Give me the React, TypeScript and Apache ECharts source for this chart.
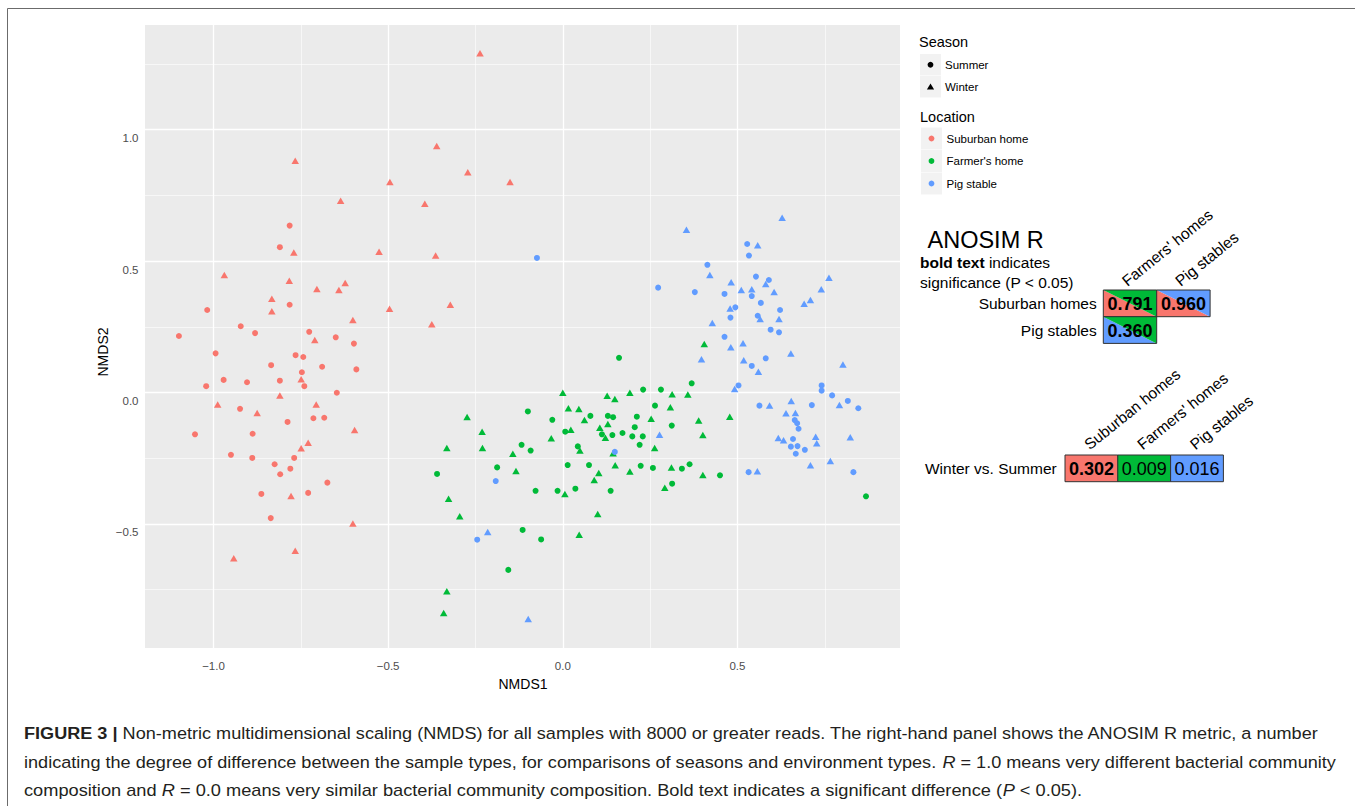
import React, { useEffect, useRef } from 'react';
import * as echarts from 'echarts';

const FONT = "'Liberation Sans', Arial, Helvetica, sans-serif";
const RED = '#F8766D';
const GREEN = '#00BA38';
const BLUE = '#619CFF';

// NMDS coordinates [NMDS1, NMDS2]
const suburbanSummer: [number, number][] = [
  [-0.782, 0.635], [-0.81, 0.553], [-1.018, 0.314], [-0.782, 0.334], [-0.922, 0.252], [-1.099, 0.215],
  [-0.881, 0.226], [-0.726, 0.231], [-0.65, 0.21], [-0.598, 0.186], [-0.994, 0.149], [-0.765, 0.142],
  [-0.743, 0.135], [-0.835, 0.104], [-0.689, 0.098], [-0.591, 0.088], [-0.747, 0.077], [-0.971, 0.048],
  [-0.904, 0.039], [-0.81, 0.045], [-1.021, 0.024], [-0.74, 0.024], [-0.647, -0.001], [-0.924, -0.062],
  [-0.714, -0.098], [-0.683, -0.096], [-0.788, -0.112], [-1.053, -0.159], [-0.888, -0.157], [-0.95, -0.237],
  [-0.889, -0.249], [-0.769, -0.249], [-0.825, -0.273], [-0.78, -0.29], [-0.809, -0.311], [-0.674, -0.343],
  [-0.863, -0.386], [-0.729, -0.382], [-0.836, -0.478],
];
const suburbanWinter: [number, number][] = [
  [-0.237, 1.291], [-0.361, 0.938], [-0.766, 0.882], [-0.272, 0.838], [-0.495, 0.801], [-0.151, 0.801],
  [-0.636, 0.73], [-0.395, 0.718], [-0.77, 0.533], [-0.526, 0.536], [-0.364, 0.521], [-0.969, 0.447],
  [-0.783, 0.425], [-0.704, 0.394], [-0.623, 0.417], [-0.641, 0.39], [-0.833, 0.357], [-0.833, 0.309],
  [-0.496, 0.319], [-0.322, 0.334], [-0.601, 0.276], [-0.375, 0.26], [-0.71, 0.2], [-0.749, 0.05],
  [-0.81, -0.011], [-0.988, -0.046], [-0.875, -0.078], [-0.706, -0.046], [-0.596, -0.143], [-0.729, -0.191],
  [-0.749, -0.212], [-0.778, -0.394], [-0.601, -0.498], [-0.766, -0.602], [-0.942, -0.631],
];
const farmerSummer: [number, number][] = [
  [-0.36, -0.31], [-0.188, -0.285], [-0.118, -0.199], [-0.115, -0.523], [-0.156, -0.675], [-0.078, -0.374],
  [-0.015, -0.374], [0.036, -0.366], [-0.062, -0.559], [0.161, 0.132], [0.369, 0.035], [0.23, 0.011],
  [0.281, 0.011], [-0.1, -0.072], [0.264, -0.05], [-0.03, -0.104], [0.079, -0.089], [0.129, -0.089],
  [0.144, -0.094], [0.212, -0.092], [0.206, -0.132], [0.312, -0.126], [0.007, -0.149], [0.112, -0.159],
  [0.142, -0.162], [0.171, -0.154], [0.199, -0.167], [0.229, -0.167], [-0.092, -0.221], [0.043, -0.205],
  [0.22, -0.199], [0.014, -0.276], [0.075, -0.276], [0.223, -0.279], [0.258, -0.287], [0.341, -0.29],
  [0.363, -0.273], [0.45, -0.315], [0.137, -0.374], [0.313, -0.347], [0.868, -0.395],
];
const farmerWinter: [number, number][] = [
  [-0.274, -0.093], [-0.231, -0.149], [-0.332, -0.211], [-0.23, -0.211], [-0.143, -0.233], [-0.134, -0.299],
  [-0.327, -0.404], [-0.295, -0.471], [-0.332, -0.756], [-0.341, -0.839], [0.405, 0.185], [0.0, -0.001],
  [0.127, -0.012], [0.149, -0.025], [0.192, -0.001], [0.313, -0.007], [0.358, -0.008], [0.016, -0.06],
  [0.046, -0.063], [0.308, -0.056], [0.062, -0.105], [0.253, -0.1], [0.389, -0.107], [0.478, -0.092],
  [0.129, -0.12], [0.106, -0.134], [0.023, -0.142], [0.122, -0.172], [0.401, -0.162], [-0.033, -0.174],
  [0.049, -0.221], [0.263, -0.211], [0.144, -0.231], [0.15, -0.277], [0.103, -0.306], [0.192, -0.301],
  [0.311, -0.285], [0.401, -0.314], [0.09, -0.333], [0.006, -0.386], [0.292, -0.362], [0.1, -0.462],
  [0.047, -0.541],
];
const pigSummer: [number, number][] = [
  [-0.074, 0.512], [-0.192, -0.337], [-0.245, -0.56], [0.149, -0.226], [0.273, 0.399], [0.528, 0.565],
  [0.533, 0.521], [0.414, 0.486], [0.378, 0.382], [0.463, 0.375], [0.541, 0.367], [0.553, 0.441],
  [0.59, 0.428], [0.567, 0.341], [0.494, 0.324], [0.622, 0.314], [0.48, 0.285], [0.558, 0.292],
  [0.595, 0.239], [0.619, 0.229], [0.463, 0.212], [0.541, 0.101], [0.581, 0.13], [0.503, 0.027],
  [0.741, 0.027], [0.741, 0.007], [0.771, -0.011], [0.816, -0.032], [0.563, -0.05], [0.713, -0.048],
  [0.846, -0.06], [0.664, -0.105], [0.671, -0.117], [0.675, -0.138], [0.659, -0.177], [0.653, -0.206],
  [0.672, -0.204], [0.693, -0.218], [0.667, -0.233], [0.532, -0.303], [0.832, -0.303],
];
const pigWinter: [number, number][] = [
  [-0.215, -0.531], [-0.099, -0.862], [0.277, -0.161], [0.628, 0.665], [0.354, 0.619], [0.558, 0.56],
  [0.421, 0.447], [0.482, 0.42], [0.511, 0.39], [0.541, 0.393], [0.581, 0.413], [0.605, 0.382],
  [0.762, 0.437], [0.74, 0.393], [0.709, 0.352], [0.691, 0.338], [0.479, 0.32], [0.565, 0.28],
  [0.619, 0.28], [0.428, 0.264], [0.481, 0.172], [0.516, 0.187], [0.397, 0.127], [0.518, 0.123],
  [0.653, 0.148], [0.56, 0.079], [0.802, 0.107], [0.492, 0.013], [0.592, -0.049], [0.654, -0.032],
  [0.792, -0.048], [0.639, -0.079], [0.666, -0.078], [0.617, -0.173], [0.632, -0.182], [0.724, -0.168],
  [0.727, -0.193], [0.823, -0.17], [0.766, -0.261], [0.709, -0.277], [0.557, -0.3],
];

const xTicks = [-1.0, -0.5, 0.0, 0.5];
const yTicks = [-0.5, 0.0, 0.5, 1.0];
const xMinor = [-0.75, -0.25, 0.25, 0.75];
const yMinor = [-0.75, -0.25, 0.25, 0.75, 1.25];

const seasonLabels = ['Summer', 'Winter'];
const locationLabels = ['Suburban home', "Farmer's home", 'Pig stable'];
const locationColors = [RED, GREEN, BLUE];

// ANOSIM R between location types
const anosimRows = ['Suburban homes', 'Pig stables'];
const anosimRowColors = [RED, BLUE];
const anosimCols = ["Farmers' homes", 'Pig stables'];
const anosimColColors = [GREEN, BLUE];
const anosimValues: (number | null)[][] = [[0.791, 0.96], [0.36, null]];
const anosimBold = [[true, true], [true, false]];

// ANOSIM R winter vs summer, per location
const seasonCompCols = ['Suburban homes', "Farmers' homes", 'Pig stables'];
const seasonCompColors = [RED, GREEN, BLUE];
const seasonCompValues = [0.302, 0.009, 0.016];
const seasonCompBold = [true, false, false];

type Part = { t: string; s: 'b' | 'n' | 'i' };
const captionLines: Part[][] = [
  [
    { t: 'FIGURE 3 |', s: 'b' },
    { t: ' Non-metric multidimensional scaling (NMDS) for all samples with 8000 or greater reads. The right-hand panel shows the ANOSIM R metric, a number', s: 'n' },
  ],
  [
    { t: 'indicating the degree of difference between the sample types, for comparisons of seasons and environment types. ', s: 'n' },
    { t: 'R', s: 'i' },
    { t: ' = 1.0 means very different bacterial community', s: 'n' },
  ],
  [
    { t: 'composition and ', s: 'n' },
    { t: 'R', s: 'i' },
    { t: ' = 0.0 means very similar bacterial community composition. Bold text indicates a significant difference (', s: 'n' },
    { t: 'P', s: 'i' },
    { t: ' < 0.05).', s: 'n' },
  ],
];
const captionWidths = [1296, 1313, 1058];

const fmt = (v: number) => (v < 0 ? '\u2212' : '') + Math.abs(v).toFixed(1);

function fontOf(s: string, size: number) {
  const w = s === 'b' ? 'bold ' : '';
  const st = s === 'i' ? 'italic ' : '';
  return `${st}${w}${size}px ${FONT}`;
}

function measure(parts: Part[], size: number) {
  const ctx = document.createElement('canvas').getContext('2d');
  if (!ctx) return 0;
  let w = 0;
  for (const p of parts) {
    ctx.font = fontOf(p.s, size);
    w += ctx.measureText(p.t).width;
  }
  return w;
}

function richStyles(size: number, fill: string) {
  return {
    b: { fontSize: size, fontFamily: FONT, fontWeight: 'bold', fill },
    n: { fontSize: size, fontFamily: FONT, fontWeight: 'normal', fill },
    i: { fontSize: size, fontFamily: FONT, fontStyle: 'italic', fill },
  };
}

export default function App() {
  const ref = useRef<HTMLDivElement>(null);

  useEffect(() => {
    if (!ref.current) return;
    const chart = echarts.init(ref.current, null, { renderer: 'svg' });

    const groups = [
      { name: 'Suburban home \u2013 Summer', data: suburbanSummer, color: RED, symbol: 'circle' },
      { name: 'Suburban home \u2013 Winter', data: suburbanWinter, color: RED, symbol: 'triangle' },
      { name: "Farmer's home \u2013 Summer", data: farmerSummer, color: GREEN, symbol: 'circle' },
      { name: "Farmer's home \u2013 Winter", data: farmerWinter, color: GREEN, symbol: 'triangle' },
      { name: 'Pig stable \u2013 Summer', data: pigSummer, color: BLUE, symbol: 'circle' },
      { name: 'Pig stable \u2013 Winter', data: pigWinter, color: BLUE, symbol: 'triangle' },
    ];

    const gridLines = [
      ...xMinor.map((v) => ({ xAxis: v, lineStyle: { color: '#FFFFFF', width: 0.6, type: 'solid' } })),
      ...yMinor.map((v) => ({ yAxis: v, lineStyle: { color: '#FFFFFF', width: 0.6, type: 'solid' } })),
      ...xTicks.map((v) => ({ xAxis: v, lineStyle: { color: '#FFFFFF', width: 1.3, type: 'solid' } })),
      ...yTicks.map((v) => ({ yAxis: v, lineStyle: { color: '#FFFFFF', width: 1.3, type: 'solid' } })),
    ];

    const series: any[] = groups.map((g, i) => ({
      type: 'scatter',
      name: g.name,
      data: g.data,
      symbol: g.symbol,
      symbolSize: g.symbol === 'circle' ? 6 : [7.5, 6.5],
      itemStyle: { color: g.color, opacity: 1 },
      z: 3,
      silent: true,
      ...(i === 0
        ? {
            markLine: {
              z: 1,
              silent: true,
              animation: false,
              symbol: ['none', 'none'],
              label: { show: false },
              emphasis: { disabled: true },
              lineStyle: { type: 'solid', color: '#FFFFFF' },
              data: gridLines,
            },
          }
        : {}),
    }));

    const graphic: any[] = [];
    const txt = (text: string, x: number, y: number, opts: any = {}) => ({
      type: 'text',
      x,
      y,
      rotation: opts.rotation || 0,
      style: {
        text,
        fontSize: opts.size || 12,
        fontFamily: FONT,
        fontWeight: opts.weight || 'normal',
        fill: opts.fill || '#000000',
        align: opts.align || 'left',
        verticalAlign: opts.va || 'middle',
      },
    });

    // frame
    graphic.push({ type: 'line', shape: { x1: 7.5, y1: 8.5, x2: 1355, y2: 8.5 }, style: { stroke: '#6b6b6b', lineWidth: 1 } });
    graphic.push({ type: 'line', shape: { x1: 7.5, y1: 8.5, x2: 7.5, y2: 806 }, style: { stroke: '#6b6b6b', lineWidth: 1 } });

    // axis titles
    graphic.push(txt('NMDS1', 523, 684, { size: 14, align: 'center' }));
    graphic.push({ ...txt('NMDS2', 103, 352, { size: 14, align: 'center' }), rotation: Math.PI / 2 });

    // legend: Season
    graphic.push(txt('Season', 919, 42, { size: 14.5 }));
    seasonLabels.forEach((lab, i) => {
      const top = 54 + i * 22;
      graphic.push({ type: 'rect', shape: { x: 920, y: top, width: 21, height: 21.5 }, style: { fill: '#F2F2F2' } });
      const cx = 930.5;
      const cy = top + 10.8;
      if (i === 0) {
        graphic.push({ type: 'circle', shape: { cx, cy, r: 2.9 }, style: { fill: '#000000' } });
      } else {
        graphic.push({
          type: 'polygon',
          shape: { points: [[cx - 3.6, cy + 2.8], [cx + 3.6, cy + 2.8], [cx, cy - 3.4]] },
          style: { fill: '#000000' },
        });
      }
      graphic.push(txt(lab, 945, cy, { size: 11.5 }));
    });

    // legend: Location
    graphic.push(txt('Location', 920, 117, { size: 14.5 }));
    locationLabels.forEach((lab, i) => {
      const top = 127.5 + i * 22.5;
      graphic.push({ type: 'rect', shape: { x: 921, y: top, width: 21, height: 22 }, style: { fill: '#F2F2F2' } });
      const cy = top + 11;
      graphic.push({ type: 'circle', shape: { cx: 931.5, cy, r: 2.9 }, style: { fill: locationColors[i] } });
      graphic.push(txt(lab, 946.5, cy, { size: 11.5 }));
    });

    // ANOSIM panel
    graphic.push(txt('ANOSIM R', 927.5, 239.5, { size: 23.5 }));
    graphic.push({
      type: 'text',
      x: 920,
      y: 262.7,
      style: {
        text: '{b|bold text}{n| indicates}',
        rich: richStyles(15.5, '#000000'),
        fontSize: 15.5,
        fontFamily: FONT,
        verticalAlign: 'middle',
      },
    });
    graphic.push(txt('significance (P < 0.05)', 920, 282.7, { size: 15.5 }));

    const t1x = 1103.3;
    const t1y = 290;
    const cw = 53.4;
    const ch = 26.7;
    anosimCols.forEach((c, j) => {
      const cx = t1x + j * cw + cw / 2 - 1;
      graphic.push(txt(c, cx, t1y - 1, { size: 15.5, va: 'bottom', rotation: (39 * Math.PI) / 180 }));
    });
    anosimRows.forEach((r, i) => {
      graphic.push(txt(r, 1096.7, t1y + i * ch + ch / 2 + 0.5, { size: 15.5, align: 'right' }));
      anosimCols.forEach((_c, j) => {
        const v = anosimValues[i][j];
        if (v === null) return;
        const x0 = t1x + j * cw;
        const y0 = t1y + i * ch;
        const x1 = x0 + cw;
        const y1 = y0 + ch;
        graphic.push({ type: 'polygon', shape: { points: [[x0, y0], [x0, y1], [x1, y1]] }, style: { fill: anosimRowColors[i] } });
        graphic.push({ type: 'polygon', shape: { points: [[x0, y0], [x1, y0], [x1, y1]] }, style: { fill: anosimColColors[j] } });
        graphic.push({ type: 'rect', shape: { x: x0, y: y0, width: cw, height: ch }, style: { fill: 'none', stroke: '#333333', lineWidth: 1 } });
        graphic.push(
          txt(v.toFixed(3), x0 + cw / 2, y0 + ch / 2 + 1, { size: 18, align: 'center', weight: anosimBold[i][j] ? 'bold' : 'normal' })
        );
      });
    });

    const t2x = 1065;
    const t2y = 455;
    const cw2 = 52.8;
    seasonCompCols.forEach((c, j) => {
      const cx = t2x + j * cw2 + cw2 / 2;
      graphic.push(txt(c, cx, t2y - 2.5, { size: 15.5, va: 'bottom', rotation: (39 * Math.PI) / 180 }));
      const x0 = t2x + j * cw2;
      graphic.push({
        type: 'rect',
        shape: { x: x0, y: t2y, width: cw2, height: ch },
        style: { fill: seasonCompColors[j], stroke: '#333333', lineWidth: 1 },
      });
      graphic.push(
        txt(seasonCompValues[j].toFixed(3), x0 + cw2 / 2, t2y + ch / 2 + 1, {
          size: 18,
          align: 'center',
          weight: seasonCompBold[j] ? 'bold' : 'normal',
        })
      );
    });
    graphic.push(txt('Winter vs. Summer', 1056.7, 468.5, { size: 15.5, align: 'right' }));

    // caption
    const capSize = 17;
    captionLines.forEach((parts, k) => {
      const w = measure(parts, capSize);
      const sx = w > 0 ? captionWidths[k] / w : 1;
      graphic.push({
        type: 'text',
        x: 24,
        y: 733 + k * 28.7,
        scaleX: sx,
        style: {
          text: parts.map((p) => `{${p.s}|${p.t}}`).join(''),
          rich: richStyles(capSize, '#231F20'),
          fontSize: capSize,
          fontFamily: FONT,
          verticalAlign: 'middle',
        },
      });
    });

    const option: any = {
      animation: false,
      backgroundColor: '#FFFFFF',
      textStyle: { fontFamily: FONT },
      grid: {
        left: 145,
        top: 25,
        width: 755,
        height: 623,
        show: true,
        backgroundColor: '#EBEBEB',
        borderWidth: 0,
        containLabel: false,
      },
      xAxis: {
        type: 'value',
        min: -1.1961,
        max: 0.9654,
        splitLine: { show: false },
        axisLine: { show: false },
        axisTick: { show: true, length: 4, lineStyle: { color: '#333333', width: 1 }, customValues: xTicks },
        axisLabel: { customValues: xTicks, formatter: fmt, color: '#4D4D4D', fontSize: 11.5, margin: 12, fontFamily: FONT },
      },
      yAxis: {
        type: 'value',
        min: -0.9722,
        max: 1.3984,
        splitLine: { show: false },
        axisLine: { show: false },
        axisTick: { show: true, length: 4, lineStyle: { color: '#333333', width: 1 }, customValues: yTicks },
        axisLabel: {
          customValues: yTicks,
          formatter: fmt,
          color: '#4D4D4D',
          fontSize: 11.5,
          margin: 6.5,
          verticalAlign: 'top',
          lineHeight: 17,
          fontFamily: FONT,
        },
      },
      series,
      graphic,
    };

    chart.setOption(option);
    return () => chart.dispose();
  }, []);

  return <div ref={ref} style={{ position: 'absolute', left: 0, top: 0, width: 1355, height: 806 }} />;
}
